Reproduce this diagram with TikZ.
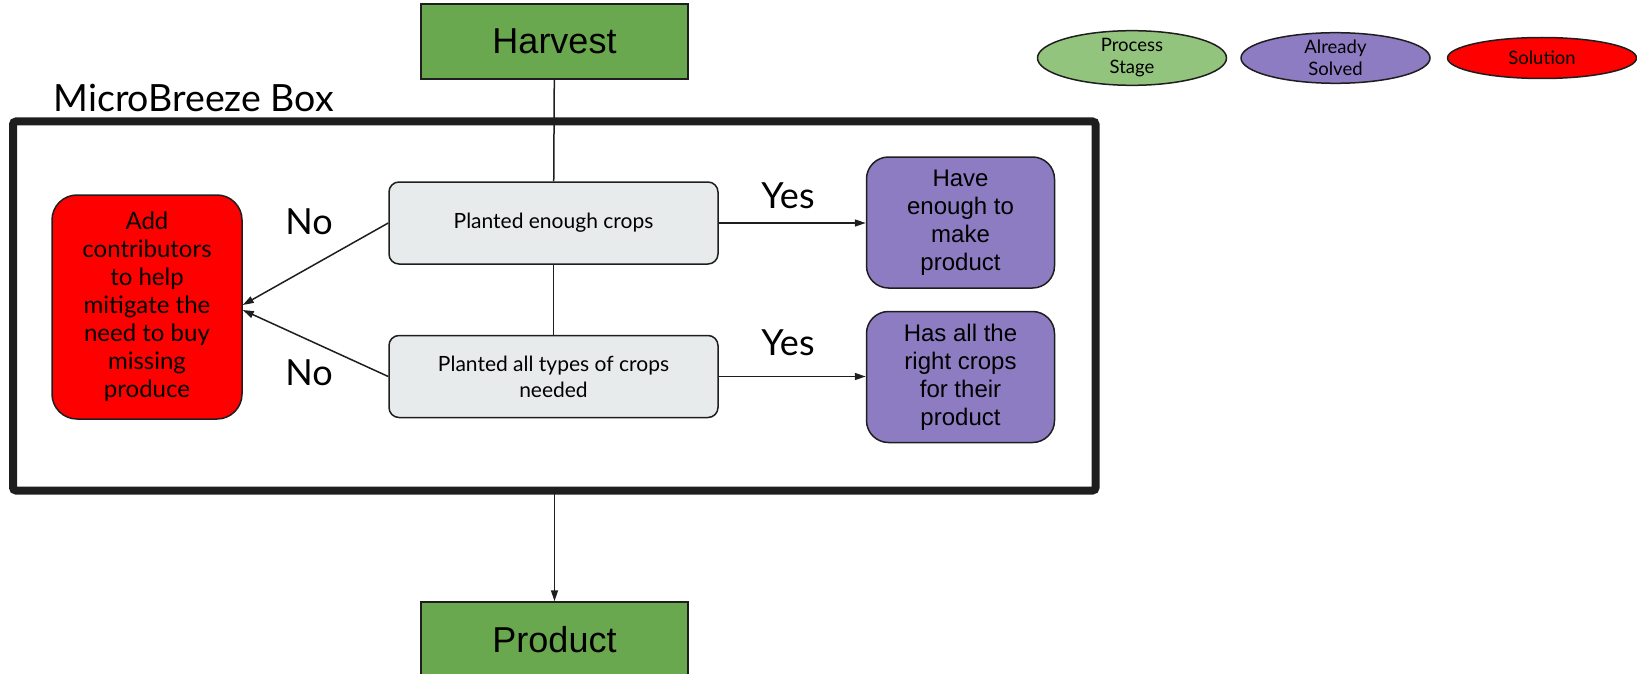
\documentclass[tikz,border=0pt]{standalone}
\usepackage{fontspec}
\setmainfont{Lato}
\newfontfamily\arialfont{Liberation Sans}
\usetikzlibrary{arrows.meta,shapes.geometric}

\definecolor{stagegreen}{HTML}{6AA84F}
\definecolor{keygreen}{HTML}{93C47D}
\definecolor{solvedpurple}{HTML}{8E7CC3}
\definecolor{checkgray}{HTML}{E8EBEC}
\definecolor{edgeblack}{HTML}{1E1E1E}

\begin{document}
\begin{tikzpicture}[x=1pt,y=-1pt,
    stage/.style={draw=edgeblack, line width=1.5pt, fill=stagegreen, inner sep=0pt,
        minimum width=267pt, minimum height=75pt, font=\arialfont\fontsize{36}{42}\selectfont},
    check/.style={draw=edgeblack, line width=1.5pt, fill=checkgray, rounded corners=10pt, inner sep=0pt,
        minimum width=329pt, minimum height=82pt, align=center, font=\fontsize{21}{26}\selectfont},
    solved/.style={draw=edgeblack, line width=1.5pt, fill=solvedpurple, rounded corners=22pt, inner sep=0pt,
        minimum width=188pt, minimum height=131pt, align=center, font=\arialfont\fontsize{24}{28}\selectfont},
    keyoval/.style={draw=edgeblack, line width=1.5pt, ellipse, inner sep=0pt,
        minimum width=189pt, minimum height=41pt, align=center, font=\fontsize{18.5}{22}\selectfont},
    link/.style={draw=edgeblack, line width=1.5pt},
    arrow/.style={link, -{Triangle[length=11pt,width=7pt]}},
    answer/.style={font=\fontsize{36}{40}\selectfont}
]
    \useasboundingbox (0,0) rectangle (1637,674);

    % the box
    \draw[edgeblack, line width=8pt, rounded corners=3pt] (13,121.5) rectangle (1095.5,490.5);
    \node[anchor=base west, font=\fontsize{37.5}{42}\selectfont] (boxlabel) at (50,112) {MicroBreeze Box};
    \coordinate (boxbottom) at (554.5,490.5);

    % stages
    \node[stage] (harvest) at (554.5,41.5) {Harvest};
    \node[stage] (product) at (554.5,639.5) {Product};

    % checks
    \node[check] (enough) at (553.5,223) {Planted enough crops};
    \node[check] (types) at (553.5,376.5) {Planted all types of crops\\needed};

    % results
    \node[draw=edgeblack, line width=1.5pt, fill=red, rounded corners=25pt, inner sep=0pt,
        minimum width=190pt, minimum height=224pt, align=center,
        font=\fontsize{24}{28}\selectfont] (contrib) at (147,307)
        {Add\\contributors\\to help\\mitigate the\\need to buy\\missing\\produce};
    \node[solved] (haveenough) at (960.5,222.5) {Have\\enough to\\make\\product};
    \node[solved] (hasall) at (960.5,377) {Has all the\\right crops\\for their\\product};

    % legend
    \node[keyoval, fill=keygreen] (keystage) at (1132,58) {Process\\Stage};
    \node[keyoval, fill=solvedpurple] (keysolved) at (1335.5,58) {Already\\Solved};
    \node[keyoval, fill=red] (keysolution) at (1542,58) {Solution};

    % connectors
    \draw[link] (harvest) -- (enough);
    \draw[link] (enough) -- (types);
    \draw[arrow] (boxbottom) -- (product);
    \draw[arrow] (enough.west) -- ([yshift=2pt]contrib.east);
    \draw[arrow] (types.west) -- ([yshift=-3pt]contrib.east);
    \draw[arrow] (enough.east) -- (haveenough.west |- enough.east);
    \draw[arrow] (types.east) -- (hasall.west |- types.east);

    % labels
    \node[answer] (no1) at (309,222) {No};
    \node[answer] (no2) at (309,373) {No};
    \node[answer] (yes1) at (788,196) {Yes};
    \node[answer] (yes2) at (788,342.5) {Yes};
\end{tikzpicture}
\end{document}
